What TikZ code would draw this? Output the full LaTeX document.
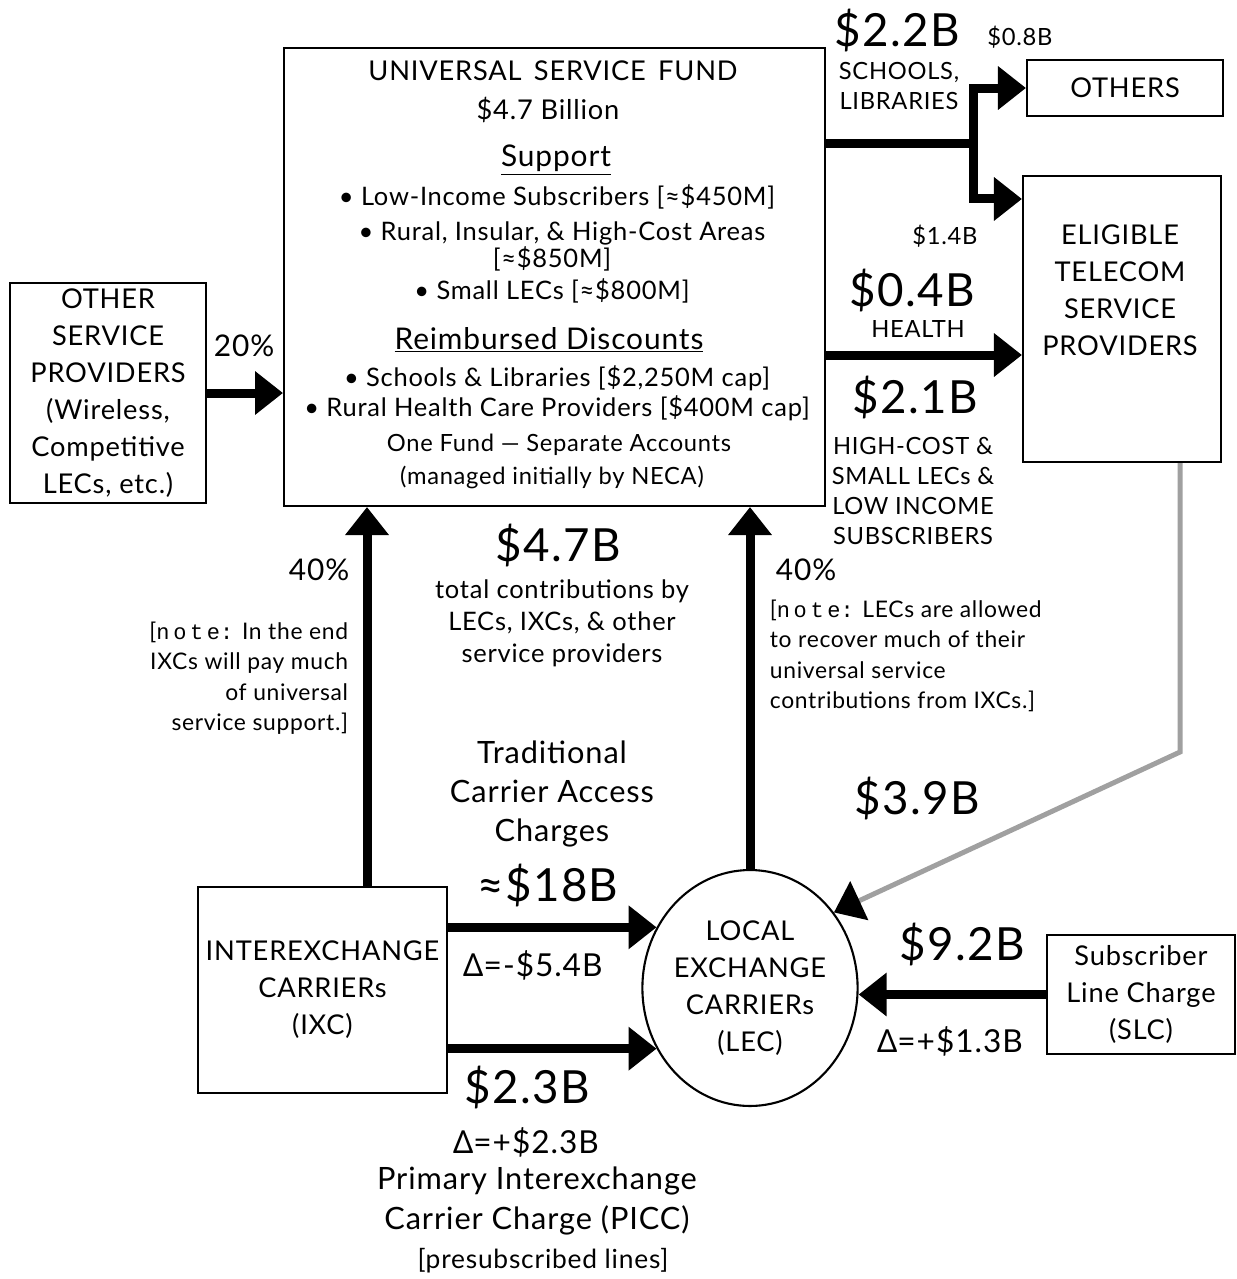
\documentclass[tikz,border=0pt]{standalone}
\usepackage{fontspec}
\setmainfont{Lato}[LetterSpace=3]
\newfontfamily\notefont{Liberation Mono}
\newfontfamily\deltafont{Noto Sans}
\usetikzlibrary{arrows.meta, shapes.geometric}
\definecolor{trail}{RGB}{160, 160, 160}
\newcommand{\notetag}{{\notefont\fontsize{12.5}{14}\selectfont n\,o\,t\,e:}}
\newcommand{\Dl}{{\deltafont Δ}}

\begin{document}
\begin{tikzpicture}[x=0.02cm, y=-0.02cm, line width=1.2pt,
  box/.style={draw, inner sep=0pt, align=center, font=\fontsize{15.5}{21}\selectfont},
  amount/.style={font=\fontsize{26}{30}\selectfont},
  words/.style={align=center, font=\fontsize{15.5}{21}\selectfont},
  smalltext/.style={align=center, font=\fontsize{13.5}{17}\selectfont},
  notetext/.style={font=\fontsize{13}{17.3}\selectfont},
  fundtext/.style={font=\fontsize{14.5}{18}\selectfont},
  head/.style={font=\fontsize{17}{20}\selectfont},
  delta/.style={font=\fontsize{18}{21}\selectfont},
  flow/.style={line width=0.18cm, -{Triangle[length=0.56cm, width=0.84cm]}},
  trailflow/.style={draw=trail, line width=0.1cm, -{Triangle[length=0.56cm, width=0.84cm, color=black]}}]

  \useasboundingbox (0, 0) rectangle (1237, 1279);

  % universal service fund
  \node[box, minimum width=10.82cm, minimum height=9.16cm] (usf) at (554.5, 277) {};
  \node[font=\fontsize{15.5}{18}\selectfont] (fundname) at (553, 71) {UNIVERSAL\, SERVICE\, FUND};
  \node[font=\fontsize{15.5}{18}\selectfont] (fundsize) at (548, 110) {\$4.7 Billion};
  \node[head] (support) at (556, 160) {\underline{Support}};
  \node[fundtext] (s1) at (557, 197) {• Low-Income Subscribers [≈\$450M]};
  \node[fundtext] (s2) at (562, 233) {• Rural, Insular, \& High-Cost Areas};
  \node[fundtext] (s3) at (552, 259) {[≈\$850M]};
  \node[fundtext] (s4) at (552, 291) {• Small LECs [≈\$800M]};
  \node[head] (reimb) at (549, 340) {\underline{Reimbursed Discounts}};
  \node[fundtext] (r1) at (557, 378) {• Schools \& Libraries [\$2,250M cap]};
  \node[fundtext] (r2) at (557, 408) {• Rural Health Care Providers [\$400M cap]};
  \node[smalltext] (f1) at (559, 445) {One Fund — Separate Accounts};
  \node[smalltext] (f2) at (552, 477) {(managed initially by NECA)};

  % the other boxes
  \node[box, minimum width=3.92cm, minimum height=4.4cm] (osp) at (108, 393)
    {OTHER\\SERVICE\\PROVIDERS\\(Wireless,\\Competitive\\LECs, etc.)};
  \node[box, minimum width=3.92cm, minimum height=1.12cm] (others) at (1125, 88) {OTHERS};
  \node[box, minimum width=3.96cm, minimum height=5.72cm] (elig) at (1122, 319) {};
  \node[words] (eligtext) at (1120, 290) {ELIGIBLE\\TELECOM\\SERVICE\\PROVIDERS};
  \node[box, minimum width=4.98cm, minimum height=4.12cm] (ixc) at (322.5, 990)
    {INTEREXCHANGE\\CARRIERs\\(IXC)};
  \node[box, ellipse, minimum width=4.12cm, minimum height=4.72cm] (lec) at (750, 988)
    {LOCAL\\EXCHANGE\\CARRIERs\\(LEC)};
  \node[box, minimum width=3.76cm, minimum height=2.38cm] (slc) at (1141, 994.5)
    {Subscriber\\Line Charge\\(SLC)};

  % flows
  \coordinate (fork) at (973, 143);
  \coordinate (bend) at (1180, 752);
  \draw[line width=0.18cm] (usf.east |- fork) -- (fork);
  \draw[flow] (fork) |- (others.west);
  \draw[flow] (fork) |- ([yshift=-0.48cm]elig.north west);
  \draw[flow] (usf.east |- 0, 355) -- (elig.west |- 0, 355);
  \draw[flow] (osp.east) -- (osp.east -| usf.west);
  \draw[flow] (ixc.north -| 367, 0) -- (usf.south -| 367, 0);
  \draw[flow] (lec.north) -- (lec.north |- usf.south);
  \draw[flow] (ixc.east |- lec.147) -- (lec.147);
  \draw[flow] (ixc.east |- lec.213) -- (lec.213);
  \draw[flow] (slc.west) -- (slc.west -| lec.east);
  \draw[trailflow] (elig.south -| bend) -- (bend) -- (lec.42);

  % amounts and notes
  \node[amount] (a22) at (897, 30) {\$2.2B};
  \node[smalltext] (a08) at (1020, 37) {\$0.8B};
  \node[smalltext] (schools) at (899, 86) {SCHOOLS,\\LIBRARIES};
  \node[smalltext] (a14) at (945, 236) {\$1.4B};
  \node[amount] (a04) at (912, 290) {\$0.4B};
  \node[smalltext] (health) at (918, 329) {HEALTH};
  \node[amount] (a21) at (915, 397) {\$2.1B};
  \node[smalltext] (highcost) at (913, 491) {HIGH-COST \&\\SMALL LECs \&\\LOW INCOME\\SUBSCRIBERS};
  \node[head] (p20) at (244, 346) {20\%};
  \node[head] (p40a) at (319, 570) {40\%};
  \node[head] (p40b) at (806, 570) {40\%};
  \node[amount] (a47) at (558, 545) {\$4.7B};
  \node[words, font=\fontsize{14.5}{18.2}\selectfont] (total) at (562, 623)
    {total contributions by\\LECs, IXCs, \& other\\service providers};
  \node[notetext, align=right, anchor=east] (noteixc) at (355, 678)
    {[\notetag{} In the end\\IXCs will pay much\\of universal\\service support.]};
  \node[notetext, align=left, anchor=west] (notelec) at (763, 656)
    {[\notetag{} LECs are allowed\\to recover much of their\\universal service\\contributions from IXCs.]};
  \node[words, font=\fontsize{17.5}{22}\selectfont] (trad) at (552, 794) {Traditional\\Carrier Access\\Charges};
  \node[amount] (a18) at (548, 885) {≈\$18B};
  \node[delta] (d54) at (533, 965) {\Dl=-\$5.4B};
  \node[amount] (a23) at (527, 1087) {\$2.3B};
  \node[delta] (d23) at (526, 1142) {\Dl=+\$2.3B};
  \node[words, font=\fontsize{17.5}{23}\selectfont] (picc) at (537, 1201)
    {Primary Interexchange\\Carrier Charge (PICC)};
  \node[words, font=\fontsize{15}{18}\selectfont] (presub) at (543, 1261) {{[}presubscribed lines{]}};
  \node[amount] (a39) at (917, 798) {\$3.9B};
  \node[amount] (a92) at (962, 944) {\$9.2B};
  \node[delta] (d13) at (950, 1041) {\Dl=+\$1.3B};

\end{tikzpicture}
\end{document}
